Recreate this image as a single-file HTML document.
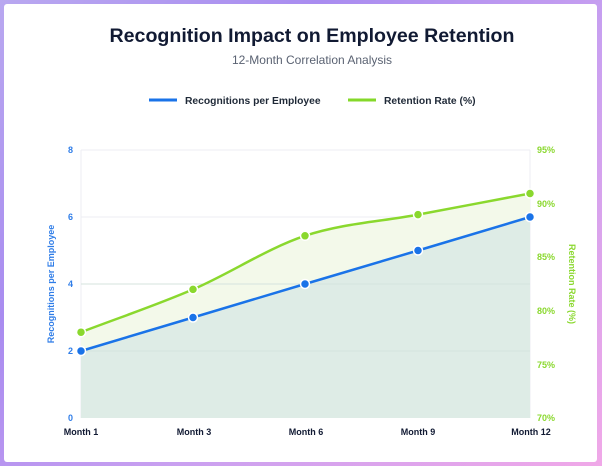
<!DOCTYPE html>
<html><head><style>
html,body{margin:0;padding:0}
body{width:602px;height:466px;background:linear-gradient(135deg,#b9a8f0 0%,#a98cf0 30%,#c9a0f0 60%,#f0a8e8 100%);position:relative;overflow:hidden;font-family:"Liberation Sans",sans-serif}
.card{position:absolute;left:4px;top:4px;width:593px;height:458px;background:#fff;border-radius:3px}
</style></head><body>
<div class="card"></div>
<svg width="602" height="466" style="position:absolute;left:0;top:0" font-family="Liberation Sans, sans-serif">
<text x="312" y="42" text-anchor="middle" font-size="19.6" font-weight="bold" fill="#111a33">Recognition Impact on Employee Retention</text>
<text x="312" y="64" text-anchor="middle" font-size="12" fill="#5a6272">12-Month Correlation Analysis</text>
<line x1="149" y1="100" x2="177" y2="100" stroke="#1a73e8" stroke-width="3"/>
<text x="185" y="104" font-size="10.3" font-weight="bold" fill="#1f2937">Recognitions per Employee</text>
<line x1="348" y1="100" x2="376" y2="100" stroke="#84d82a" stroke-width="3"/>
<text x="384" y="104" font-size="10.3" font-weight="bold" fill="#1f2937">Retention Rate (%)</text>
<g stroke="#eceef3" stroke-width="1">
<line x1="81" y1="150" x2="530" y2="150"/><line x1="81" y1="217" x2="530" y2="217"/>
<line x1="81" y1="284" x2="530" y2="284"/><line x1="81" y1="351" x2="530" y2="351"/>
<line x1="81" y1="150" x2="81" y2="418"/><line x1="530" y1="150" x2="530" y2="418"/>
</g>
<path d="M81,332.2 C118.3,317.9 155.7,305.5 193,289.4 C230.3,273.4 267.7,248.1 305,235.8 C342.7,223.4 380.3,221.7 418,214.6 C455.3,207.6 492.7,200.5 530,193.5 L530,418 L81,418 Z" fill="#f3f9ea"/>
<path d="M81,351 L193,317.5 L305,284 L418,250.5 L530,217 L530,418 L81,418 Z" fill="#deece6"/>
<g stroke="#d4e3dd" stroke-width="1"><line x1="81" y1="284" x2="530" y2="284"/><line x1="81" y1="351" x2="530" y2="351"/></g>
<path d="M81,332.2 C118.3,317.9 155.7,305.5 193,289.4 C230.3,273.4 267.7,248.1 305,235.8 C342.7,223.4 380.3,221.7 418,214.6 C455.3,207.6 492.7,200.5 530,193.5" fill="none" stroke="#8ad82e" stroke-width="2.5"/>
<path d="M81,351 L193,317.5 L305,284 L418,250.5 L530,217" fill="none" stroke="#1a73e8" stroke-width="2.5"/>
<g fill="#8ad82e" stroke="#fff" stroke-width="1.5">
<circle cx="81" cy="332.2" r="4.5"/><circle cx="193" cy="289.4" r="4.5"/><circle cx="305" cy="235.8" r="4.5"/><circle cx="418" cy="214.6" r="4.5"/><circle cx="530" cy="193.5" r="4.5"/></g>
<g fill="#1a73e8" stroke="#fff" stroke-width="1.5">
<circle cx="81" cy="351" r="4.5"/><circle cx="193" cy="317.5" r="4.5"/><circle cx="305" cy="284" r="4.5"/><circle cx="418" cy="250.5" r="4.5"/><circle cx="530" cy="217" r="4.5"/></g>
<g font-size="9" font-weight="bold" fill="#2f7de8" text-anchor="end">
<text x="73" y="153">8</text><text x="73" y="220">6</text><text x="73" y="287">4</text><text x="73" y="354">2</text><text x="73" y="421">0</text></g>
<g font-size="9" font-weight="bold" fill="#8ad82e">
<text x="537" y="153">95%</text><text x="537" y="207">90%</text><text x="537" y="260">85%</text><text x="537" y="314">80%</text><text x="537" y="368">75%</text><text x="537" y="421">70%</text></g>
<g font-size="9" font-weight="bold" fill="#111a33" text-anchor="middle">
<text x="81" y="435">Month 1</text><text x="194" y="435">Month 3</text><text x="306" y="435">Month 6</text><text x="418" y="435">Month 9</text><text x="531" y="435">Month 12</text></g>
<text transform="translate(54,284) rotate(-90)" text-anchor="middle" font-size="9" font-weight="bold" fill="#2f7de8">Recognitions per Employee</text>
<text transform="translate(569,284) rotate(90)" text-anchor="middle" font-size="9" font-weight="bold" fill="#8ad82e">Retention Rate (%)</text>
</svg>
</body></html>
